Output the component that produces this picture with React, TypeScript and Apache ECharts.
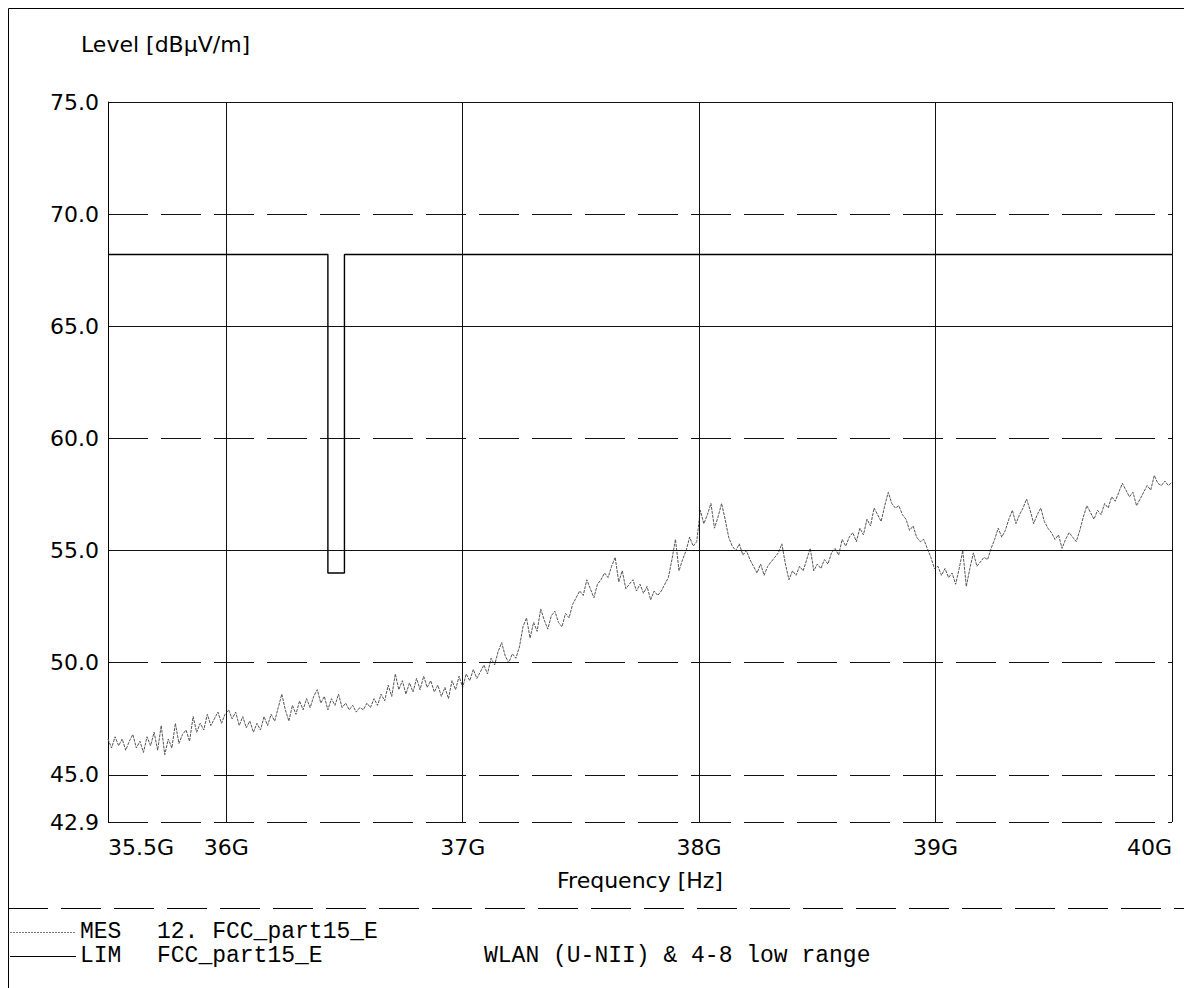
import React, { useEffect, useRef } from "react";
import * as echarts from "echarts";

// Measured level (dBµV/m), sweep 35.5 GHz .. 40 GHz, equally spaced points
const MES_35 = [
  46.6, 46.2, 46.7, 46.3, 46.6, 46.1, 46.5, 46.8, 46.2, 46.5, 46.0, 46.7, 46.3, 46.9, 46.1, 47.2, 45.9,
  46.6, 46.2, 47.3, 46.4, 46.8, 47.0, 46.5, 47.6, 46.9, 47.3, 47.0, 47.7, 47.2, 47.5, 47.8, 47.3, 47.7,
];
const MES_36 = [
  47.9, 47.5, 47.8, 47.2, 47.6, 47.1, 47.4, 46.9, 47.3, 47.0, 47.6, 47.2, 47.7, 47.4, 48.0, 48.6, 47.9,
  47.4, 48.1, 47.7, 48.3, 47.9, 48.4, 48.0, 48.5, 48.8, 48.2, 48.5, 47.9, 48.4, 48.1, 48.6, 48.0, 48.2,
  47.9, 48.1, 47.8, 48.0, 47.9, 48.2, 48.0, 48.4, 48.1, 48.6, 48.3, 49.0, 48.5, 49.5, 48.8, 49.2, 48.6,
  49.1, 48.7, 49.3, 48.8, 49.4, 48.9, 49.2, 48.7, 49.0, 48.5, 48.9, 48.4, 49.2, 48.8, 49.4, 48.9,
];
const MES_37 = [
  49.5, 49.2, 49.7, 49.3, 49.6, 49.9, 49.5, 50.2, 49.9, 50.5, 50.9, 50.3, 50.0, 50.4, 50.2, 50.7, 51.6,
  52.0, 51.1, 51.8, 51.4, 52.4, 51.9, 51.5, 52.1, 52.3, 51.8, 51.6, 52.2, 52.0, 52.6, 52.9, 53.2, 53.0,
  53.7, 53.3, 52.9, 53.5, 53.7, 54.0, 53.8, 54.3, 54.7, 53.6, 54.1, 53.3, 53.5, 53.7, 53.2, 53.5, 53.1,
  53.4, 52.8, 53.2, 53.0, 53.2, 53.5, 53.8, 54.6, 55.5, 54.1, 54.6, 55.0, 55.6, 55.2, 55.4,
];
const MES_38 = [
  56.8, 56.2, 56.6, 57.1, 56.0, 56.5, 57.1, 56.4, 55.6, 55.2, 55.0, 55.3, 54.8, 55.0, 54.6, 54.3, 54.0,
  54.4, 53.9, 54.3, 54.5, 54.7, 54.9, 55.3, 54.4, 53.7, 54.1, 53.9, 54.3, 54.1, 54.6, 55.1, 54.1, 54.4,
  54.2, 54.6, 54.4, 54.9, 55.1, 54.8, 55.5, 55.2, 55.6, 55.8, 55.4, 56.0, 55.7, 56.4, 56.1, 56.9, 56.6,
  56.3, 57.0, 57.6, 57.1, 56.9, 57.0, 56.6, 56.4, 55.9, 56.1, 55.6, 55.4, 55.5, 55.1, 54.7, 54.2,
];
const MES_39 = [
  54.3, 53.9, 54.2, 53.8, 54.0, 53.5, 54.2, 55.0, 53.4, 54.2, 54.9, 54.3, 54.5, 54.7, 54.6, 55.1, 55.5,
  56.0, 55.6, 55.9, 56.4, 56.8, 56.2, 56.6, 56.9, 57.3, 56.8, 56.2, 56.6, 56.9, 56.3, 56.0, 55.8, 55.5,
  55.7, 55.1, 55.5, 55.8, 55.6, 55.4, 55.9, 56.5, 57.0, 56.7, 56.4, 56.8, 56.6, 57.1, 56.9, 57.4, 57.2,
  57.6, 58.0, 57.7, 57.4, 57.6, 57.0, 57.3, 57.6, 57.9, 57.7, 58.35, 58.0, 57.9, 58.1, 57.9, 58.05,
];
const MES_LEVEL = [...MES_35, ...MES_36, ...MES_37, ...MES_38, ...MES_39];
const SWEEP_START = 35.5;
const SWEEP_STOP = 40;

// Limit line FCC part 15 E (restricted band 36.43–36.5 GHz)
const LIM_FREQ = [35.5, 36.43, 36.43, 36.5, 36.5, 40];
const LIM_LEVEL = [68.2, 68.2, 54, 54, 68.2, 68.2];

// Axis ticks and grid
const Y_TICKS = [42.9, 45, 50, 55, 60, 65, 70, 75];
const X_TICKS = [35.5, 36, 37, 38, 39, 40];
const H_SOLID = [75, 65, 55];
const H_DASHED = [70, 60, 50, 45, 42.9];
const V_SOLID = [36, 37, 38, 39, 40];

const DASH = [40, 13];
const SANS = "DejaVu Sans";
const MONO = "Liberation Mono";

export default function App() {
  const ref = useRef<HTMLDivElement>(null);

  useEffect(() => {
    if (!ref.current) return;
    const chart = echarts.init(ref.current, null, { renderer: "svg" });

    const step = (SWEEP_STOP - SWEEP_START) / (MES_LEVEL.length - 1);
    const mesData = MES_LEVEL.map((v, i) => [SWEEP_START + i * step, v]);
    const limData = LIM_FREQ.map((f, i) => [f, LIM_LEVEL[i]]);

    const gridLines = [
      ...H_SOLID.map((y) => ({ yAxis: y, lineStyle: { type: "solid" } })),
      ...H_DASHED.map((y) => ({ yAxis: y, lineStyle: { type: DASH } })),
      ...V_SOLID.map((x) => ({ xAxis: x, lineStyle: { type: "solid" } })),
    ];

    const text = (x: number, y: number, t: string, font: string, size: number) => ({
      type: "text",
      x,
      y,
      style: {
        text: t,
        fontFamily: font,
        fontSize: size,
        lineHeight: size,
        fill: "#000",
        align: "left",
        verticalAlign: "middle",
      },
    });
    const line = (x1: number, y1: number, x2: number, y2: number, stroke: string, dash?: number[]) => ({
      type: "line",
      shape: { x1, y1, x2, y2 },
      style: { stroke, lineWidth: 1, lineDash: dash },
    });

    const ROW_MES = 932;
    const ROW_LIM = 956;
    const LEGEND_SIZE = 23;

    chart.setOption({
      animation: false,
      backgroundColor: "#fff",
      grid: { left: 108, top: 102, right: 12, bottom: 166, containLabel: false },
      xAxis: {
        type: "value",
        min: 35.5,
        max: 40,
        axisLine: { show: false },
        axisTick: { show: false },
        splitLine: { show: false },
        axisLabel: {
          customValues: X_TICKS,
          formatter: (v: number) => `${v}G`,
          fontFamily: SANS,
          fontSize: 22,
          color: "#000",
          margin: 14,
          alignMinLabel: "left",
          alignMaxLabel: "right",
        },
        name: "Frequency [Hz]",
        nameLocation: "middle",
        nameGap: 47,
        nameTextStyle: { fontFamily: SANS, fontSize: 22, color: "#000" },
      },
      yAxis: {
        type: "value",
        min: 42.9,
        max: 75,
        axisLine: { show: true, lineStyle: { color: "#000", width: 1 } },
        axisTick: { show: false },
        splitLine: { show: false },
        axisLabel: {
          customValues: Y_TICKS,
          formatter: (v: number) => v.toFixed(1),
          fontFamily: SANS,
          fontSize: 22,
          color: "#000",
          margin: 9,
        },
      },
      series: [
        {
          name: "grid",
          type: "line",
          data: [],
          z: 1,
          silent: true,
          markLine: {
            silent: true,
            symbol: ["none", "none"],
            label: { show: false },
            lineStyle: { color: "#111", width: 1 },
            emphasis: { disabled: true },
            data: gridLines,
          },
        },
        {
          name: "LIM",
          type: "line",
          data: limData,
          z: 3,
          showSymbol: false,
          symbol: "none",
          lineStyle: { color: "#000", width: 1.4 },
        },
        {
          name: "MES",
          type: "line",
          data: mesData,
          z: 4,
          showSymbol: false,
          symbol: "none",
          lineStyle: { color: "#555", width: 1, type: [3, 1] },
        },
      ],
      graphic: [
        line(8.5, 8.5, 1184, 8.5, "#000"),
        line(8.5, 8.5, 8.5, 988, "#000"),
        line(8, 908.5, 1184, 908.5, "#000", DASH),
        text(81, 44, "Level [dBµV/m]", SANS, 22),
        line(10, ROW_MES + 0.5, 76, ROW_MES + 0.5, "#777", [2, 1]),
        text(80, ROW_MES, "MES", MONO, LEGEND_SIZE),
        text(157, ROW_MES, "12. FCC_part15_E", MONO, LEGEND_SIZE),
        line(10, ROW_LIM + 0.5, 76, ROW_LIM + 0.5, "#000"),
        text(80, ROW_LIM, "LIM", MONO, LEGEND_SIZE),
        text(157, ROW_LIM, "FCC_part15_E", MONO, LEGEND_SIZE),
        text(484, ROW_LIM, "WLAN (U-NII) & 4-8 low range", MONO, LEGEND_SIZE),
      ],
    });

    return () => chart.dispose();
  }, []);

  return (
    <div
      ref={ref}
      style={{ position: "absolute", left: 0, top: 0, width: 1184, height: 988 }}
    />
  );
}
